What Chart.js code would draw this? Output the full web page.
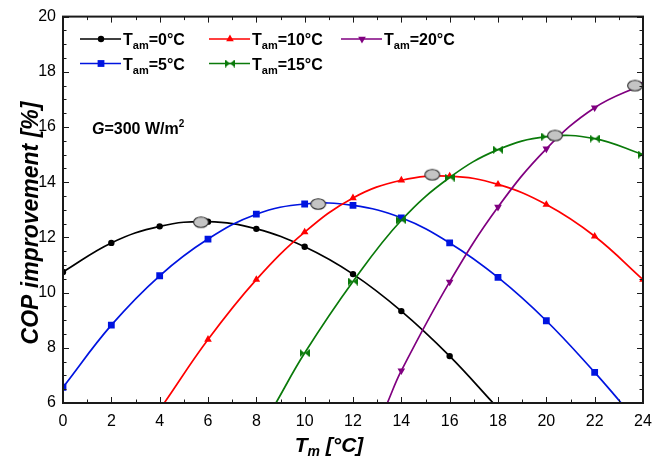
<!DOCTYPE html>
<html>
<head>
<meta charset="utf-8">
<script src="https://cdn.jsdelivr.net/npm/chart.js@4/dist/chart.umd.min.js"></script>
<style>
  html, body { margin: 0; padding: 0; background: #fff; }
  #wrap { width: 668px; height: 458px; }
</style>
</head>
<body>
<div id="wrap"><canvas id="c" width="668" height="458"></canvas></div>
<script>
const FONT = '"Liberation Sans", Arial, Helvetica, sans-serif';

// Mean module temperature T_m [°C] and COP improvement [%] per ambient temperature
const tm0  = [0, 2, 4, 6, 8, 10, 12, 14, 16, 17.8];
const cop0 = [10.75, 11.8, 12.4, 12.57, 12.31, 11.66, 10.67, 9.33, 7.7, 6];

const tm5  = [0, 2, 4, 6, 8, 10, 12, 14, 16, 18, 20, 22, 23.1];
const cop5 = [6.57, 8.82, 10.61, 11.94, 12.84, 13.21, 13.16, 12.71, 11.8, 10.55, 8.98, 7.11, 6];

const tm10  = [4.19, 6, 8, 10, 12, 14, 16, 18, 20, 22, 24];
const cop10 = [6, 8.3, 10.47, 12.19, 13.43, 14.07, 14.22, 13.92, 13.19, 12.04, 10.47];

const tm15  = [8.81, 10, 12, 14, 16, 18, 20, 22, 24];
const cop15 = [6, 7.81, 10.4, 12.62, 14.17, 15.18, 15.65, 15.58, 15.0];

const tm20  = [13.42, 14, 16, 18, 20, 22, 24];
const cop20 = [6, 7.17, 10.39, 13.1, 15.21, 16.7, 17.55];

// Optimum (maximum) point of each curve
const optTm  = [5.71, 10.56, 15.28, 20.36, 23.67];
const optCop = [12.55, 13.21, 14.27, 15.69, 17.5];

const ambientTemps = ['0', '5', '10', '15', '20'];

// Axis ranges and tick steps
const xRange = [0, 24];
const yRange = [6, 20];
const xMajorStep = 2, xMinorStep = 1;
const yMajorStep = 2, yMinorStep = 0.5;

const irradiance = '300';

function pts(xs, ys) { return xs.map((x, i) => ({ x: x, y: ys[i] })); }

function makeCanvas(w, h, draw) {
  const cv = document.createElement('canvas');
  cv.width = w; cv.height = h;
  draw(cv.getContext('2d'));
  return cv;
}

// Custom marker: bow-tie (two triangles pointing inward)
const GREEN = '#0a7a0a';
const bowtie = makeCanvas(10, 8, g => {
  g.fillStyle = GREEN;
  g.beginPath();
  g.moveTo(0.5, 0.5); g.lineTo(5, 4); g.lineTo(0.5, 7.5); g.closePath();
  g.moveTo(9.5, 0.5); g.lineTo(5, 4); g.lineTo(9.5, 7.5); g.closePath();
  g.fill();
  g.fillRect(0, 0.5, 1.3, 7);
  g.fillRect(8.7, 0.5, 1.3, 7);
});

// Optimum marker: grey ellipse
const ellipse = makeCanvas(18, 14, g => {
  g.beginPath();
  g.ellipse(9, 7, 7.4, 5.2, 0, 0, Math.PI * 2);
  g.fillStyle = '#c4c4c4';
  g.fill();
  g.lineWidth = 1.1;
  g.strokeStyle = '#2a2a2a';
  g.stroke();
});

const series = [
  { xs: tm0,  ys: cop0,  color: '#000000', style: 'circle',   radius: 3.2, rot: 0 },
  { xs: tm5,  ys: cop5,  color: '#0014e0', style: 'rect',     radius: 4.8, rot: 0 },
  { xs: tm10, ys: cop10, color: '#ff0000', style: 'triangle', radius: 4.4, rot: 0 },
  { xs: tm15, ys: cop15, color: GREEN,     style: bowtie,     radius: 4,   rot: 0 },
  { xs: tm20, ys: cop20, color: '#800080', style: 'triangle', radius: 4.4, rot: 180 }
];

const datasets = series.map((s, i) => ({
  label: 'T_am=' + ambientTemps[i] + '°C',
  data: pts(s.xs, s.ys),
  borderColor: s.color,
  backgroundColor: s.color,
  borderWidth: 1.7,
  tension: 0.4,
  pointStyle: s.style,
  pointRotation: s.rot,
  pointBorderWidth: 0,
  // points lying on the lower axis limit are only curve ends, not markers
  pointRadius: ctx => (ctx.raw && ctx.raw.y <= yRange[0] ? 0 : s.radius),
  pointHoverRadius: 0,
  order: 5 - i
}));

datasets.push({
  label: 'optimum',
  data: pts(optTm, optCop),
  showLine: false,
  pointStyle: ellipse,
  pointRadius: 7,
  order: -1
});

// Frame with inward ticks on all four sides
const framePlugin = {
  id: 'frame',
  afterDatasetsDraw(chart) {
    const { ctx, chartArea: a, scales: { x, y } } = chart;
    ctx.save();
    ctx.strokeStyle = '#1a1a1a';
    ctx.lineWidth = 1;
    ctx.beginPath();
    for (let v = xRange[0]; v <= xRange[1] + 1e-9; v += xMinorStep) {
      const px = Math.round(x.getPixelForValue(v)) + 0.5;
      const len = (Math.abs(v / xMajorStep - Math.round(v / xMajorStep)) < 1e-6) ? 6 : 3.5;
      ctx.moveTo(px, a.bottom); ctx.lineTo(px, a.bottom - len);
      ctx.moveTo(px, a.top); ctx.lineTo(px, a.top + len);
    }
    for (let v = yRange[0]; v <= yRange[1] + 1e-9; v += yMinorStep) {
      const py = Math.round(y.getPixelForValue(v)) + 0.5;
      const len = (Math.abs(v / yMajorStep - Math.round(v / yMajorStep)) < 1e-6) ? 6 : 3.5;
      ctx.moveTo(a.left, py); ctx.lineTo(a.left + len, py);
      ctx.moveTo(a.right, py); ctx.lineTo(a.right - len, py);
    }
    ctx.stroke();
    ctx.lineWidth = 2;
    ctx.strokeRect(a.left, a.top, a.right - a.left, a.bottom - a.top);
    ctx.restore();
  }
};

// Draws text runs with subscripts / superscripts and mixed styles
function drawRuns(ctx, runs, x, y, align) {
  let total = 0;
  runs.forEach(r => { ctx.font = r.font; total += ctx.measureText(r.t).width; });
  let cx = align === 'center' ? x - total / 2 : x;
  ctx.textAlign = 'left';
  ctx.textBaseline = 'alphabetic';
  runs.forEach(r => {
    ctx.font = r.font;
    ctx.fillText(r.t, cx, y + (r.dy || 0));
    cx += ctx.measureText(r.t).width;
  });
}

const B16 = 'bold 16px ' + FONT;
const B11 = 'bold 11px ' + FONT;

function legendRuns(t) {
  return [
    { t: 'T', font: B16 },
    { t: 'am', font: B11, dy: 4 },
    { t: '=' + t + '°C', font: B16 }
  ];
}

const legendPlugin = {
  id: 'customLegend',
  afterDraw(chart) {
    const ctx = chart.ctx;
    const slots = [
      { col: 0, row: 0 }, { col: 0, row: 1 }, { col: 1, row: 0 }, { col: 1, row: 1 }, { col: 2, row: 0 }
    ];
    const colX = [80, 209, 341];
    const rowY = [39, 63.5];
    ctx.save();
    series.forEach((s, i) => {
      const x0 = colX[slots[i].col], yy = rowY[slots[i].row];
      ctx.strokeStyle = s.color;
      ctx.lineWidth = 1.7;
      ctx.beginPath(); ctx.moveTo(x0, yy); ctx.lineTo(x0 + 41, yy); ctx.stroke();
      const mx = x0 + 21;
      ctx.fillStyle = s.color;
      ctx.beginPath();
      if (s.style === 'circle') {
        ctx.arc(mx, yy, s.radius, 0, Math.PI * 2); ctx.fill();
      } else if (s.style === 'rect') {
        const h = s.radius * Math.SQRT1_2;
        ctx.fillRect(mx - h, yy - h, 2 * h, 2 * h);
      } else if (s.style === 'triangle') {
        const r = s.radius, dir = s.rot === 180 ? -1 : 1;
        ctx.moveTo(mx, yy - dir * r);
        ctx.lineTo(mx - r * 0.866, yy + dir * r * 0.5);
        ctx.lineTo(mx + r * 0.866, yy + dir * r * 0.5);
        ctx.closePath(); ctx.fill();
      } else {
        ctx.drawImage(s.style, mx - s.style.width / 2, yy - s.style.height / 2);
      }
      ctx.fillStyle = '#000';
      drawRuns(ctx, legendRuns(ambientTemps[i]), x0 + 43, yy + 6, 'left');
    });

    // Irradiance note
    drawRuns(ctx, [
      { t: 'G', font: 'italic bold 16px ' + FONT },
      { t: '=' + irradiance + ' W/m', font: B16 },
      { t: '2', font: 'bold 10px ' + FONT, dy: -7 }
    ], 92, 134, 'left');

    // Axis titles
    drawRuns(ctx, [
      { t: 'T', font: 'italic bold 21px ' + FONT },
      { t: 'm', font: 'italic bold 14px ' + FONT, dy: 4 },
      { t: ' [°C]', font: 'italic bold 21px ' + FONT }
    ], 329, 452, 'center');

    ctx.save();
    ctx.translate(38, 223);
    ctx.rotate(-Math.PI / 2);
    drawRuns(ctx, [{ t: 'COP improvement [%]', font: 'italic bold 23px ' + FONT }], 0, 0, 'center');
    ctx.restore();
    ctx.restore();
  }
};

Chart.defaults.font.family = FONT;
Chart.defaults.font.size = 16;
Chart.defaults.color = '#000';

new Chart(document.getElementById('c'), {
  type: 'line',
  data: { datasets: datasets },
  options: {
    responsive: false,
    animation: false,
    events: [],
    layout: { padding: { left: 0, top: 16, right: 25, bottom: 0 } },
    plugins: { legend: { display: false }, tooltip: { enabled: false } },
    scales: {
      x: {
        type: 'linear',
        min: xRange[0], max: xRange[1],
        grid: { display: false, drawTicks: false },
        border: { display: false },
        ticks: { stepSize: xMajorStep, padding: 9, maxRotation: 0, color: '#000', font: { size: 16 } },
        afterFit(scale) { scale.height = 55; }
      },
      y: {
        type: 'linear',
        min: yRange[0], max: yRange[1],
        grid: { display: false, drawTicks: false },
        border: { display: false },
        ticks: { stepSize: yMajorStep, padding: 7, color: '#000', font: { size: 16 } },
        afterFit(scale) { scale.width = 63; }
      }
    }
  },
  plugins: [framePlugin, legendPlugin]
});
</script>
</body>
</html>
